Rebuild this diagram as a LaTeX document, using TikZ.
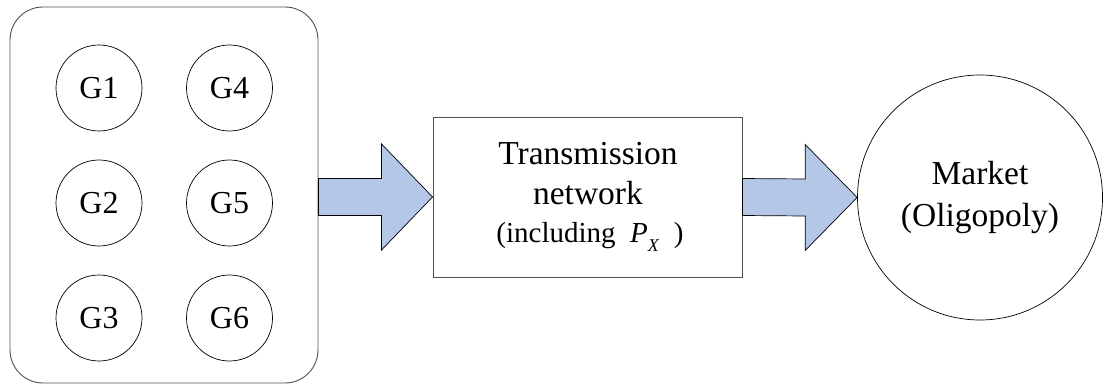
\documentclass[tikz,border=0pt]{standalone}
\usepackage{fontspec}
\setmainfont{Liberation Serif}
\usetikzlibrary{calc}
\definecolor{arrowfill}{RGB}{180,199,231}
\definecolor{boxline}{RGB}{80,80,80}
\tikzset{
  genbox/.style={draw=boxline, line width=0.9pt, rounded corners=33pt, minimum width=308pt, minimum height=376pt, inner sep=0pt},
  gencirc/.style={draw=black, line width=0.7pt, circle, minimum size=86pt, inner sep=0pt, font=\fontsize{32}{38}\selectfont},
  netbox/.style={draw=boxline, line width=0.9pt, minimum width=309pt, minimum height=160pt, inner sep=0pt},
  mkcirc/.style={draw=black, line width=0.7pt, circle, minimum size=245pt, inner sep=0pt, align=center, font=\fontsize{33.5}{42}\selectfont},
  bigtext/.style={anchor=base, inner sep=0pt, font=\fontsize{33.5}{40}\selectfont},
  smalltext/.style={anchor=base, inner sep=0pt, font=\fontsize{29}{34}\selectfont},
  blockarr/.style={draw=black, line width=0.7pt, fill=arrowfill, line join=miter}
}
\begin{document}
\begin{tikzpicture}[x=1pt, y=-1pt]
\useasboundingbox (0,0) rectangle (1103,390);
% generator group
\node[genbox] (gen) at (164,195) {};
\node[gencirc] (g1) at (99,88) {G1};
\node[gencirc] (g4) at (229.5,88) {G4};
\node[gencirc] (g2) at (99,203) {G2};
\node[gencirc] (g5) at (229.5,203) {G5};
\node[gencirc] (g3) at (99,318) {G3};
\node[gencirc] (g6) at (229.5,318) {G6};
% transmission network
\node[netbox] (tn) at (587.5,197) {};
\node[bigtext] (t1) at (588,165) {Transmission};
\node[bigtext] (t2) at (588,205) {network};
\node[smalltext] (t3) at (590,243) {(including\hspace{0.5em}\textit{P}\raisebox{-0.28em}{\fontsize{18}{18}\selectfont\textit{X}}\hspace{0.5em})};
% market
\node[mkcirc] (mk) at (980,197.5) {Market\\(Oligopoly)};
% block arrows
\coordinate (a1s) at (gen.east |- tn.west);
\draw[blockarr] ($(a1s)+(0,-18.5)$) -- ($(tn.west)+(-51,-18.5)$) -- ($(tn.west)+(-51,-53)$) -- (tn.west)
  -- ($(tn.west)+(-51,53)$) -- ($(tn.west)+(-51,18.5)$) -- ($(a1s)+(0,18.5)$) -- cycle;
\coordinate (a2s) at (tn.east);
\draw[blockarr] ($(a2s)+(0,-18.5)$) -- ($(mk.west)+(-52,-18.5)$) -- ($(mk.west)+(-52,-53)$) -- (mk.west)
  -- ($(mk.west)+(-52,53)$) -- ($(mk.west)+(-52,18.5)$) -- ($(a2s)+(0,18.5)$) -- cycle;
\end{tikzpicture}
\end{document}
